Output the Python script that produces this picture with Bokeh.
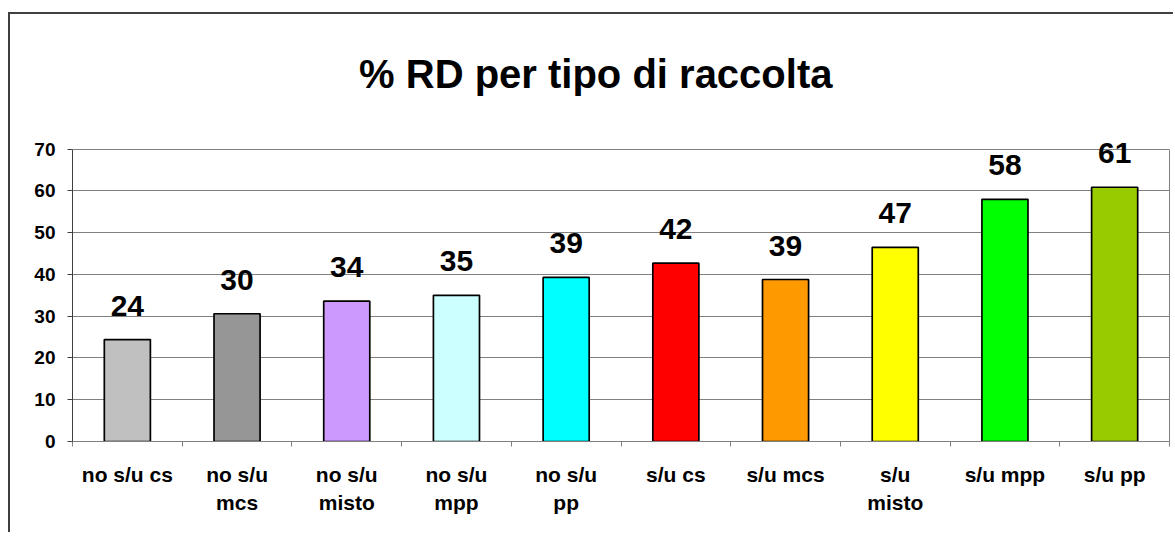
from bokeh.plotting import figure
from bokeh.models import (ColumnDataSource, LabelSet, Label, LinearAxis,
                          Range1d, FixedTicker)
from bokeh.core.properties import value
from bokeh.embed import file_html
from bokeh.resources import INLINE

# ---- data ----
title_text = "% RD per tipo di raccolta"
categories = ["no s/u cs", "no s/u mcs", "no s/u misto", "no s/u mpp", "no s/u pp",
              "s/u cs", "s/u mcs", "s/u misto", "s/u mpp", "s/u pp"]
tick_labels = ["no s/u cs", "no s/u\nmcs", "no s/u\nmisto", "no s/u\nmpp", "no s/u\npp",
               "s/u cs", "s/u mcs", "s/u\nmisto", "s/u mpp", "s/u pp"]
values = [24.4, 30.6, 33.6, 35.0, 39.3, 42.7, 38.8, 46.5, 58.0, 60.9]
value_labels = ["24", "30", "34", "35", "39", "42", "39", "47", "58", "61"]
colors = ["#C0C0C0", "#969696", "#CC99FF", "#CCFFFF", "#00FFFF",
          "#FF0000", "#FF9900", "#FFFF00", "#00FF00", "#99CC00"]
y_ticks = [0, 10, 20, 30, 40, 50, 60, 70]

FONT = "Liberation Sans"
n = len(categories)
centers = [i + 0.5 for i in range(n)]
y_top = y_ticks[-1]

src = ColumnDataSource(dict(x=centers, cat=categories, val=values, lab=value_labels, col=colors))

# the frame extends above the value axis so the title and value labels are not clipped
p = figure(x_range=Range1d(0, n), y_range=Range1d(0, 97), width=1165, height=520,
           output_backend="svg", toolbar_location=None, x_axis_location=None,
           y_axis_location=None,
           min_border_left=62, min_border_right=6, min_border_top=22, min_border_bottom=93)
p.styles = {"border-left": "2px solid #404040", "border-top": "2px solid #404040",
            "margin-top": "12px", "margin-left": "8px"}
p.background_fill_color = "white"
p.border_fill_color = "white"
p.outline_line_color = None

p.vbar(x="x", top="val", width=0.42, source=src, fill_color="col",
       line_color="#000000", line_width=1.7)

# y axis
yax = LinearAxis(ticker=FixedTicker(ticks=y_ticks, minor_ticks=[]), bounds=(0, y_top))
yax.axis_line_color = "#404040"
yax.major_tick_line_color = "#404040"
yax.major_tick_out = 5
yax.major_tick_in = 0
yax.minor_tick_out = 0
yax.minor_tick_in = 0
yax.major_label_text_font = FONT
yax.major_label_text_font_style = "bold"
yax.major_label_text_font_size = "19px"
yax.major_label_text_color = "black"
yax.major_label_standoff = 12
p.add_layout(yax, "left")

# right border of plot area
rax = LinearAxis(ticker=FixedTicker(ticks=[]), bounds=(0, y_top))
rax.axis_line_color = "#808080"
rax.major_tick_out = 0
rax.major_tick_in = 0
rax.minor_tick_out = 0
rax.minor_tick_in = 0
rax.major_label_standoff = 0
p.add_layout(rax, "right")

# x axis: labels at category centers, tick marks at boundaries (minor ticks)
xax = LinearAxis(ticker=FixedTicker(ticks=centers, minor_ticks=list(range(n + 1))))
xax.axis_line_color = "#808080"
xax.major_tick_out = 0
xax.major_tick_in = 0
xax.minor_tick_line_color = "#808080"
xax.minor_tick_out = 5
xax.minor_tick_in = 0
xax.major_label_overrides = {c: t for c, t in zip(centers, tick_labels)}
xax.major_label_text_font = FONT
xax.major_label_text_font_style = "bold"
xax.major_label_text_font_size = "21px"
xax.major_label_text_line_height = 1.25
xax.major_label_text_color = "black"
xax.major_label_standoff = 16
p.add_layout(xax, "below")

p.xgrid.grid_line_color = None
p.ygrid.ticker = FixedTicker(ticks=y_ticks, minor_ticks=[])
p.ygrid.grid_line_color = "#808080"
p.ygrid.grid_line_width = 1

labels = LabelSet(x="x", y="val", text="lab", source=src, y_offset=24,
                  text_align="center", text_baseline="alphabetic",
                  text_font=value(FONT), text_font_style="bold", text_font_size="30px",
                  text_color="black")
p.add_layout(labels)

p.add_layout(Label(x=4.77, y=88.1, text=title_text, text_align="center",
                   text_baseline="alphabetic", text_font=FONT, text_font_style="bold",
                   text_font_size="40px", text_color="black"))

open("out.html", "w").write(file_html(p, INLINE))
